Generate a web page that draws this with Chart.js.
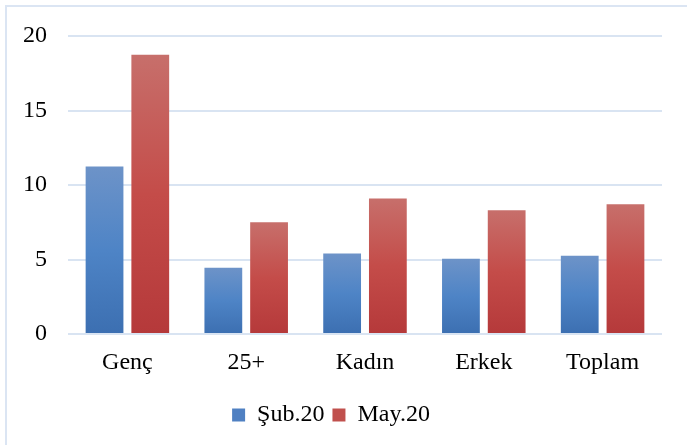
<!DOCTYPE html>
<html>
<head>
<meta charset="utf-8">
<script src="https://cdn.jsdelivr.net/npm/chart.js@4"></script>
<style>
    body { margin: 0; overflow: hidden; background: #fff; }
    #wrap { position: relative; width: 687px; height: 445px; overflow: hidden; }
    #frame { position: absolute; left: 5px; top: 5px; width: 800px; height: 600px; border-left: 2px solid #dbe5f3; border-top: 2px solid #dbe5f3; }
    canvas { position: absolute; left: 0; top: 0; }
</style>
</head>
<body>
<div id="wrap">
    <div id="frame"></div>
    <canvas id="chart" width="687" height="445"></canvas>
</div>
<script>
const categories = ["Genç", "25+", "Kadın", "Erkek", "Toplam"]
const seriesNames = ["Şub.20", "May.20"]
const subValues = [11.25, 4.45, 5.4, 5.05, 5.25]
const mayValues = [18.75, 7.5, 9.1, 8.3, 8.7]
const yTicks = [0, 5, 10, 15, 20]

// vertical gradient per bar, light at the top, dark at the base
function barGradient(top, mid, bottom) {
    return (c) => {
        const chart = c.chart
        if (!chart.chartArea || c.type !== "data") return mid
        const y = chart.scales.y
        const yTop = y.getPixelForValue(c.raw)
        const yBase = y.getPixelForValue(0)
        const g = chart.ctx.createLinearGradient(0, yTop, 0, yBase)
        g.addColorStop(0, top)
        g.addColorStop(0.5, mid)
        g.addColorStop(1, bottom)
        return g
    }
}

const legendColors = ["#4f80c2", "#c0504d"]
const font = { family: "'Liberation Serif', 'Times New Roman', serif", size: 24 }

new Chart("chart", {
    type: "bar",
    data: {
        labels: categories,
        datasets: [
            {
                label: seriesNames[0],
                data: subValues,
                backgroundColor: barGradient("#6d93c8", "#4e84c6", "#3c6fb1"),
                categoryPercentage: 0.77,
                barPercentage: 0.826
            },
            {
                label: seriesNames[1],
                data: mayValues,
                backgroundColor: barGradient("#c76f6b", "#c44c49", "#b5393a"),
                categoryPercentage: 0.77,
                barPercentage: 0.826
            }
        ]
    },
    options: {
        responsive: false,
        animation: false,
        layout: { padding: { left: 0, right: 25, top: 36, bottom: 8 } },
        plugins: {
            tooltip: { enabled: false },
            legend: {
                position: "bottom",
                labels: {
                    font: font,
                    color: "#000",
                    boxWidth: 13,
                    boxHeight: 13,
                    padding: 8,
                    generateLabels: (chart) => chart.data.datasets.map((ds, i) => ({
                        text: ds.label,
                        fillStyle: legendColors[i],
                        strokeStyle: legendColors[i],
                        lineWidth: 0,
                        datasetIndex: i,
                        fontColor: "#000"
                    }))
                }
            }
        },
        scales: {
            x: {
                grid: { display: false, drawTicks: false },
                border: { display: false },
                ticks: { font: font, color: "#000", padding: 14 },
                afterFit: (s) => { s.height = 61 }
            },
            y: {
                min: 0,
                max: 20,
                afterBuildTicks: (s) => { s.ticks = yTicks.map(v => ({ value: v })) },
                grid: { color: "#d9e4f2", lineWidth: 2, drawTicks: false },
                border: { display: false },
                ticks: { font: font, color: "#000", padding: 21 },
                afterFit: (s) => { s.width = 68 }
            }
        }
    }
})
</script>
</body>
</html>
